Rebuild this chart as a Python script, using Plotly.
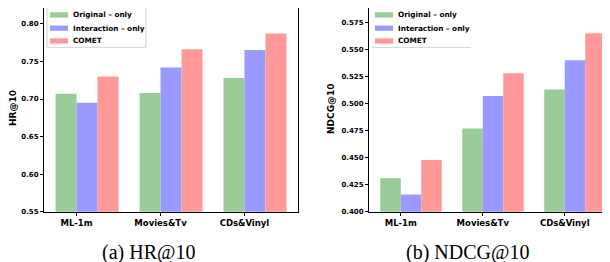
import plotly.graph_objects as go

categories = ["ML-1m", "Movies&Tv", "CDs&Vinyl"]
series_names = ["Original – only", "Interaction – only", "COMET"]
hr_original = [0.707, 0.708, 0.728]
hr_interaction = [0.695, 0.742, 0.765]
hr_comet = [0.730, 0.766, 0.787]
ndcg_original = [0.431, 0.477, 0.513]
ndcg_interaction = [0.416, 0.507, 0.540]
ndcg_comet = [0.448, 0.528, 0.565]
hr_ticks = [0.55, 0.60, 0.65, 0.70, 0.75, 0.80]
ndcg_ticks = [0.400, 0.425, 0.450, 0.475, 0.500, 0.525, 0.550, 0.575]

colors = ["#99CC99", "#9999FF", "#FF9999"]
offsets = [-0.25, 0.0, 0.25]
W, H = 610, 262
xpos = list(range(len(categories)))

fig = go.Figure()
for i, vals in enumerate([hr_original, hr_interaction, hr_comet]):
    fig.add_trace(go.Bar(x=xpos, y=vals, width=0.25, offset=offsets[i],
                         marker=dict(color=colors[i], line=dict(width=0)),
                         name=series_names[i], showlegend=False,
                         xaxis="x", yaxis="y"))
for i, vals in enumerate([ndcg_original, ndcg_interaction, ndcg_comet]):
    fig.add_trace(go.Bar(x=xpos, y=vals, width=0.25, offset=offsets[i],
                         marker=dict(color=colors[i], line=dict(width=0)),
                         name=series_names[i], showlegend=False,
                         xaxis="x2", yaxis="y2"))

tickfont_x = dict(family="DejaVu Sans", size=8.5, color="black", weight="bold")
tickfont_y = dict(family="DejaVu Sans", size=7, color="black", weight="bold")
ydom = [55 / H, 1.0]
common_x = dict(range=[-0.3875, 2.6375], tickvals=xpos, ticktext=categories,
                showline=True, linecolor="black", linewidth=1, ticks="outside",
                ticklen=3, tickcolor="black", showgrid=False, zeroline=False,
                tickfont=tickfont_x, fixedrange=True)
common_y = dict(showline=True, linecolor="black", linewidth=1, mirror=True,
                ticks="outside", ticklen=3, tickcolor="black", showgrid=False,
                zeroline=False, tickfont=tickfont_y, domain=ydom)

fig.update_layout(
    width=W, height=H, margin=dict(l=0, r=0, t=0, b=0),
    paper_bgcolor="white", plot_bgcolor="white", barmode="overlay",
    showlegend=False,
    xaxis=dict(domain=[36 / W, 290 / W], anchor="y", **common_x),
    yaxis=dict(range=[0.55, 0.821], tickvals=hr_ticks, tickformat=".2f",
               anchor="x", **common_y),
    xaxis2=dict(domain=[361 / W, 609 / W], anchor="y2", **common_x),
    yaxis2=dict(range=[0.40, 0.5883], tickvals=ndcg_ticks, tickformat=".3f",
                anchor="x2", **common_y),
)

def px_x(p):
    return p / W

def px_y(p):
    return (H - p) / H

shapes = []
annotations = []
# legend frames
shapes.append(dict(type="rect", xref="paper", yref="paper",
                   x0=px_x(39), x1=px_x(138), y0=px_y(40), y1=px_y(-3),
                   line=dict(color="#d4d4d4", width=1), fillcolor="rgba(255,255,255,0.8)"))
shapes.append(dict(type="line", xref="paper", yref="paper",
                   x0=px_x(364), x1=px_x(463), y0=px_y(40), y1=px_y(40),
                   line=dict(color="#d4d4d4", width=1)))
legfont = dict(family="DejaVu Sans", size=7.3, color="black", weight="bold")
rows = [7, 20.5, 33.5]
for x_patch, x_text in [(42, 63), (367, 388)]:
    for i, name in enumerate(series_names):
        shapes.append(dict(type="rect", xref="paper", yref="paper",
                           x0=px_x(x_patch), x1=px_x(x_patch + 18),
                           y0=px_y(rows[i] + 2.7), y1=px_y(rows[i] - 2.7),
                           line=dict(width=0), fillcolor=colors[i]))
        annotations.append(dict(text=name, xref="paper", yref="paper",
                                x=px_x(x_text), y=px_y(rows[i]), xanchor="left",
                                yanchor="middle", showarrow=False, font=legfont))

# axis titles
titlefont = dict(family="DejaVu Sans", size=9, color="black", weight="bold")
annotations.append(dict(text="HR@10", xref="paper", yref="paper", x=px_x(5.5), y=px_y(102),
                        textangle=-90, showarrow=False, xanchor="center", yanchor="middle",
                        font=titlefont))
annotations.append(dict(text="NDCG@10", xref="paper", yref="paper", x=px_x(323.5), y=px_y(102),
                        textangle=-90, showarrow=False, xanchor="center", yanchor="middle",
                        font=titlefont))
# captions
capfont = dict(family="Liberation Serif", size=20, color="black")
annotations.append(dict(text="(a) HR@10", xref="paper", yref="paper", x=px_x(140.5), y=px_y(261),
                        showarrow=False, xanchor="center", yanchor="bottom", borderpad=0,
                        font=capfont))
annotations.append(dict(text="(b) NDCG@10", xref="paper", yref="paper", x=px_x(459), y=px_y(261),
                        showarrow=False, xanchor="center", yanchor="bottom", borderpad=0,
                        font=capfont))

fig.update_layout(shapes=shapes, annotations=annotations)
fig.write_html("out.html")
